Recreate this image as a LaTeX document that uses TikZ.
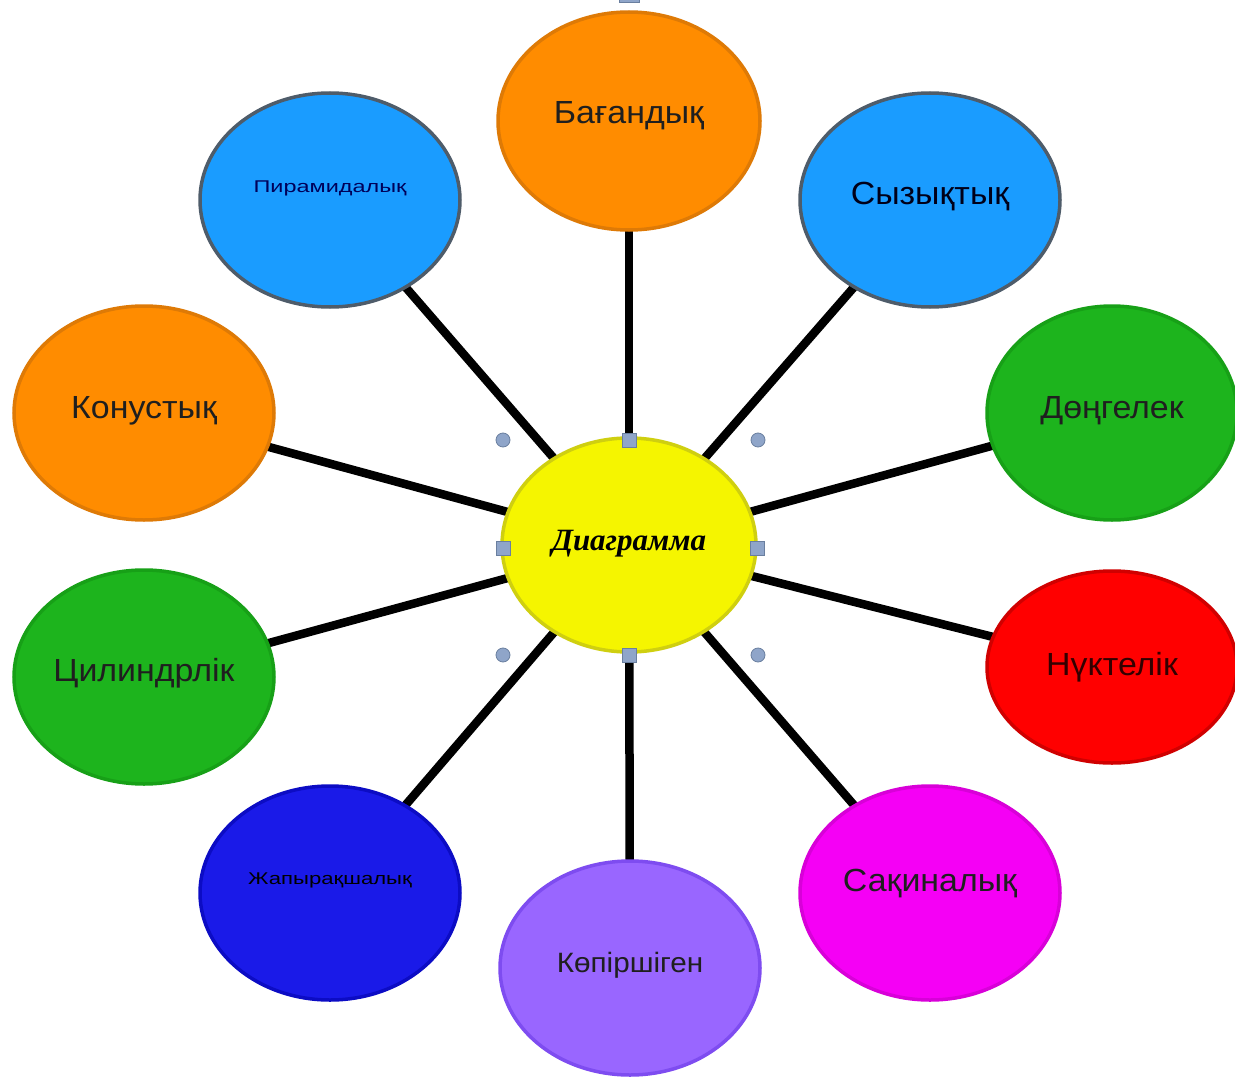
\documentclass[tikz,border=0pt]{standalone}
\usepackage{fontspec}
\setmainfont{Liberation Sans}
\newfontfamily\centfont{Liberation Serif}
\usetikzlibrary{shapes.geometric,backgrounds}
\definecolor{orfill}{HTML}{FF8C00}\definecolor{ordraw}{HTML}{DE7A06}
\definecolor{blfill}{HTML}{1A9CFF}\definecolor{bldraw}{HTML}{4E5C6A}
\definecolor{grfill}{HTML}{1DB41D}\definecolor{grdraw}{HTML}{17A017}
\definecolor{rdfill}{HTML}{FF0000}\definecolor{rddraw}{HTML}{D00000}
\definecolor{dbfill}{HTML}{1A1AE8}\definecolor{dbdraw}{HTML}{0C0CC4}
\definecolor{pufill}{HTML}{9966FF}\definecolor{pudraw}{HTML}{7E4CF0}
\definecolor{mgfill}{HTML}{F500F5}\definecolor{mgdraw}{HTML}{D800D8}
\definecolor{yefill}{HTML}{F5F500}\definecolor{yedraw}{HTML}{CFCF10}
\definecolor{hfill}{HTML}{8FA5C9}\definecolor{hdraw}{HTML}{6A7F9F}
\newcommand{\lbl}[2]{\raisebox{#1}{\scalebox{1.06}[1]{#2}}}
\begin{document}
\begin{tikzpicture}[x=1pt,y=-1pt,
  bub/.style={ellipse, line width=3.5pt, inner sep=0pt, minimum width=260pt, minimum height=214pt,
    font=\fontsize{32}{34}\selectfont, text=black!88},
  small/.style={font=\fontsize{17}{19}\selectfont},
  link/.style={line width=8.5pt, draw=black},
  hsq/.style={fill=hfill, draw=hdraw, line width=0.8pt, minimum size=14pt, inner sep=0pt, rectangle},
  hci/.style={fill=hfill, draw=hdraw, line width=0.8pt, minimum size=14pt, inner sep=0pt, circle}]
\useasboundingbox (0,0) rectangle (1235,1081);
\node[bub, fill=yefill, draw=yedraw, minimum width=254pt, minimum height=214pt,
  font=\centfont\bfseries\itshape\fontsize{31}{33}\selectfont, text=black] (c) at (629,545) {\raisebox{9pt}{Диаграмма}};
\node[bub, fill=orfill, draw=ordraw, minimum width=262pt, minimum height=218pt] (b) at (629,121) {\lbl{17pt}{Бағандық}};
\node[bub, fill=blfill, draw=bldraw, text=blue!10!black] (s) at (930,200) {\lbl{13pt}{Сызықтық}};
\node[bub, fill=blfill, draw=bldraw, small, text=blue!35!black] (p) at (330,200) {\raisebox{26pt}{\scalebox{1.38}[1]{Пирамидалық}}};
\node[bub, fill=orfill, draw=ordraw] (k) at (144,413) {\lbl{11pt}{Конустық}};
\node[bub, fill=grfill, draw=grdraw, minimum width=250pt] (d) at (1112,413) {\lbl{11pt}{Дөңгелек}};
\node[bub, fill=grfill, draw=grdraw] (z) at (144,677) {\lbl{15pt}{Цилиндрлік}};
\node[bub, fill=rdfill, draw=rddraw, minimum width=250pt, minimum height=192pt, text=black!80!red] (n) at (1112,667) {\lbl{-6pt}{Нүктелік}};
\node[bub, fill=dbfill, draw=dbdraw, small, text=black] (j) at (330,893) {\raisebox{29pt}{\scalebox{1.3}[1]{Жапырақшалық}}};
\node[bub, fill=pufill, draw=pudraw, font=\fontsize{28}{30}\selectfont] (o) at (630,968) {\lbl{11pt}{Көпіршіген}};
\node[bub, fill=mgfill, draw=mgdraw] (q) at (930,893) {\lbl{26pt}{Сақиналық}};
\begin{scope}[on background layer]
\foreach \t in {b,s,p,k,d,z,n,j,o,q} \draw[link] (c.center) -- (\t.center);
\end{scope}
% selection handles
\node[hsq] (h1) at (629,440) {};
\node[hsq] (h2) at (503,548) {};
\node[hsq] (h3) at (757,548) {};
\node[hsq] (h4) at (629,655) {};
\node[hci] (h5) at (503,440) {};
\node[hci] (h6) at (758,440) {};
\node[hci] (h7) at (503,655) {};
\node[hci] (h8) at (758,655) {};
\node[hsq, minimum width=20pt, minimum height=8pt] (h9) at (629,-2) {};
\end{tikzpicture}
\end{document}
